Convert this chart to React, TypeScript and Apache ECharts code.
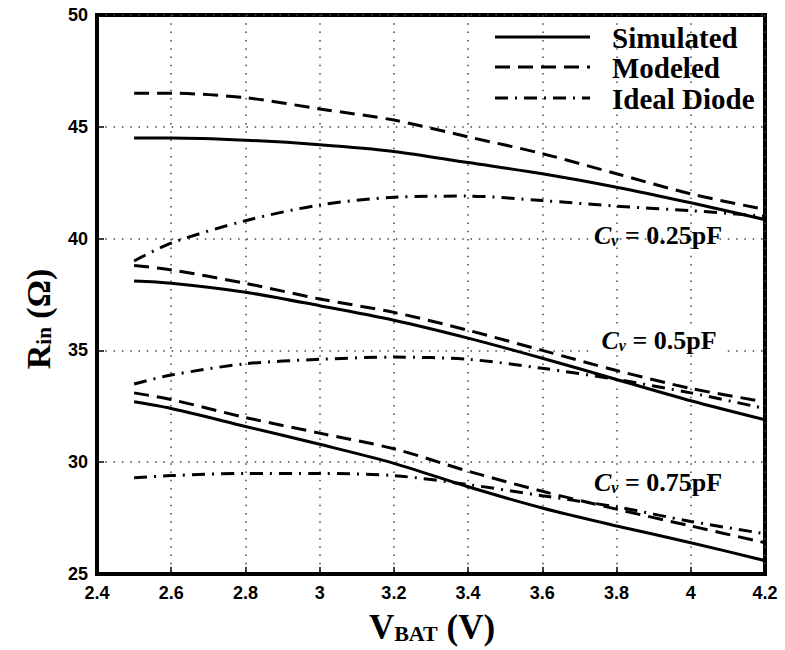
import React, { useEffect, useRef } from "react";
import * as echarts from "echarts";

const vbat = [2.5, 2.6, 2.8, 3.0, 3.2, 3.4, 3.6, 3.8, 4.0, 4.2];

const sim025 = [44.5, 44.5, 44.4, 44.2, 43.9, 43.4, 42.9, 42.3, 41.6, 40.85];
const mod025 = [46.5, 46.5, 46.3, 45.8, 45.3, 44.55, 43.8, 42.9, 42.0, 41.3];
const ide025 = [39.0, 39.8, 40.8, 41.5, 41.85, 41.9, 41.7, 41.45, 41.25, 41.0];

const sim05 = [38.1, 38.0, 37.6, 37.0, 36.35, 35.55, 34.65, 33.7, 32.75, 31.9];
const mod05 = [38.8, 38.6, 38.0, 37.3, 36.7, 35.9, 35.0, 34.1, 33.3, 32.7];
const ide05 = [33.5, 33.9, 34.4, 34.6, 34.7, 34.6, 34.2, 33.7, 33.1, 32.4];

const sim075 = [32.7, 32.4, 31.6, 30.8, 29.95, 28.9, 27.95, 27.15, 26.4, 25.6];
const mod075 = [33.1, 32.8, 32.0, 31.3, 30.6, 29.6, 28.7, 27.9, 27.15, 26.4];
const ide075 = [29.3, 29.4, 29.5, 29.5, 29.4, 29.0, 28.5, 28.0, 27.35, 26.8];

const legendNames = ["Simulated", "Modeled", "Ideal Diode"];
const capLabels = ["0.25pF", "0.5pF", "0.75pF"];

const SERIF = "'Liberation Serif', 'Times New Roman', serif";
const SANS = "'Liberation Sans', Arial, sans-serif";

const DASH = [15, 8];
const DASHDOT = [13, 7, 2, 7];

function App() {
  const ref = useRef<HTMLDivElement>(null);

  useEffect(() => {
    if (!ref.current) return;
    const chart = echarts.init(ref.current, undefined, { renderer: "svg" });

    const mk = (name: string, ys: number[], dash: any) => ({
      type: "line",
      name,
      data: vbat.map((x, i) => [x, ys[i]]),
      showSymbol: false,
      symbol: "none",
      smooth: 0.3,
      lineStyle: { color: "#000", width: 3, type: dash },
      z: 3,
    });

    const sub = (main: number, small: number, pad: number) => ({
      r: { fontFamily: SERIF, fontWeight: "bold", fontSize: main, color: "#000" },
      s: {
        fontFamily: SERIF,
        fontWeight: "bold",
        fontSize: small,
        color: "#000",
        padding: [pad, 0, 0, 0],
      },
    });

    const capRich = {
      c: { fontFamily: SERIF, fontWeight: "bold", fontStyle: "italic", fontSize: 26, color: "#000" },
      v: {
        fontFamily: SERIF,
        fontWeight: "bold",
        fontStyle: "italic",
        fontSize: 16,
        color: "#000",
        padding: [10, 0, 0, 0],
      },
      t: { fontFamily: SERIF, fontWeight: "bold", fontSize: 26, color: "#000" },
    };

    const capY = [235, 340, 482];
    const legendY = [37, 67, 98];
    const legendDash: any[] = [null, DASH, DASHDOT];

    const graphics: any[] = [];
    legendNames.forEach((n, i) => {
      graphics.push({
        type: "line",
        shape: { x1: 495, y1: legendY[i], x2: 590, y2: legendY[i] },
        style: { stroke: "#000", lineWidth: 3, lineDash: legendDash[i] || undefined },
        z: 10,
      });
      graphics.push({
        type: "text",
        x: 612,
        y: legendY[i] + 1,
        style: {
          text: n,
          fontFamily: SERIF,
          fontWeight: "bold",
          fontSize: 29,
          fill: "#000",
          verticalAlign: "middle",
          align: "left",
        },
        z: 10,
      });
    });
    capLabels.forEach((c, i) => {
      graphics.push({
        type: "text",
        x: 658,
        y: capY[i],
        style: {
          text: "{c|C}{v|v}{t| = " + c + "}",
          rich: capRich,
          align: "center",
          verticalAlign: "middle",
          backgroundColor: i === 1 ? "#fff" : undefined,
          padding: i === 1 ? [0, 10, 0, 12] : 0,
        },
        z: 10,
      });
    });
    graphics.push({
      type: "text",
      x: 38,
      y: 319,
      rotation: Math.PI / 2,
      style: {
        text: "{r|R}{s|in}{r| (Ω)}",
        rich: sub(34, 21, 12),
        align: "center",
        verticalAlign: "middle",
      },
    });
    graphics.push({
      type: "text",
      x: 432,
      y: 627,
      style: {
        text: "{r|V}{s|BAT}{r| (V)}",
        rich: sub(35, 22, 12),
        align: "center",
        verticalAlign: "middle",
      },
    });

    chart.setOption({
      animation: false,
      backgroundColor: "#fff",
      grid: {
        left: 97,
        right: 20,
        top: 15,
        bottom: 76,
        show: true,
        borderColor: "#000",
        borderWidth: 4,
      },
      xAxis: {
        type: "value",
        min: 2.4,
        max: 4.2,
        interval: 0.2,
        axisLine: { show: true, lineStyle: { color: "#000", width: 4 } },
        axisTick: { show: true, inside: true, length: 7, lineStyle: { color: "#000", width: 1.5 } },
        axisLabel: {
          margin: 10,
          color: "#000",
          fontFamily: SANS,
          fontWeight: "bold",
          fontSize: 18,
          formatter: (v: number) => String(parseFloat(v.toFixed(1))),
        },
        splitLine: { show: true, lineStyle: { color: "#444", width: 1.5, type: [1.5, 6.8] } },
      },
      yAxis: {
        type: "value",
        min: 25,
        max: 50,
        interval: 5,
        axisLine: { show: true, lineStyle: { color: "#000", width: 4 } },
        axisTick: { show: true, inside: true, length: 7, lineStyle: { color: "#000", width: 1.5 } },
        axisLabel: {
          margin: 9,
          color: "#000",
          fontFamily: SANS,
          fontWeight: "bold",
          fontSize: 18,
        },
        splitLine: { show: true, lineStyle: { color: "#444", width: 1.5, type: [1.5, 6.8] } },
      },
      series: [
        mk("Simulated", sim025, "solid"),
        mk("Modeled", mod025, DASH),
        mk("Ideal Diode", ide025, DASHDOT),
        mk("Simulated", sim05, "solid"),
        mk("Modeled", mod05, DASH),
        mk("Ideal Diode", ide05, DASHDOT),
        mk("Simulated", sim075, "solid"),
        mk("Modeled", mod075, DASH),
        mk("Ideal Diode", ide075, DASHDOT),
      ],
      graphic: graphics,
    });

    return () => chart.dispose();
  }, []);

  return <div ref={ref} style={{ width: 785, height: 650, position: "absolute", left: 0, top: 0 }} />;
}

export default App;
